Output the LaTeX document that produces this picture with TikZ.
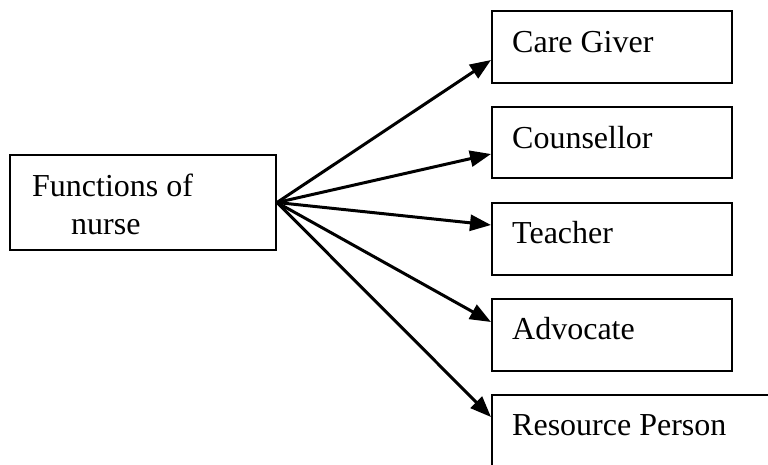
\documentclass[tikz,border=0pt]{standalone}
\usepackage{fontspec}
\setmainfont{Liberation Serif}
\usetikzlibrary{arrows.meta}
\tikzset{
  box/.style={draw=black, line width=2pt, rectangle, inner sep=0pt, anchor=north west},
  lbl/.style={inner sep=0pt, anchor=base west, font=\fontsize{32}{38}\selectfont},
  arr/.style={line width=3pt, -{Triangle[length=21pt,width=16pt]}}
}
\begin{document}
\begin{tikzpicture}[x=1pt,y=-1pt]
\useasboundingbox (0,0) rectangle (768,464);
\fill[white] (0,0) rectangle (768,464);
% source box
\node[box, minimum width=266pt, minimum height=95pt] (fn) at (9,154) {};
\node[lbl, align=left] (fnt) at (32,234) {Functions of\\\hspace*{39pt}nurse};
% target boxes
\node[box, minimum width=240pt, minimum height=72pt] (cg) at (491,10) {};
\node[box, minimum width=240pt, minimum height=71pt] (co) at (491,106) {};
\node[box, minimum width=240pt, minimum height=72pt] (te) at (491,202) {};
\node[box, minimum width=240pt, minimum height=72pt] (ad) at (491,298) {};
\node[box, minimum width=300pt, minimum height=100pt] (rp) at (491,394) {};
% labels
\node[lbl] (cgt) at (512,52) {Care Giver};
\node[lbl] (cot) at (512,148) {Counsellor};
\node[lbl] (tet) at (512,243) {Teacher};
\node[lbl] (adt) at (512,339) {Advocate};
\node[lbl] (rpt) at (512,435) {Resource Person};
% arrows
\draw[arr] (fn.east) -- ([yshift=-50pt]cg.north west);
\draw[arr] (fn.east) -- ([yshift=-48pt]co.north west);
\draw[arr] (fn.east) -- ([yshift=-23pt]te.north west);
\draw[arr] (fn.east) -- ([yshift=-24pt]ad.north west);
\draw[arr] (fn.east) -- ([yshift=-23pt]rp.north west);
\end{tikzpicture}
\end{document}
